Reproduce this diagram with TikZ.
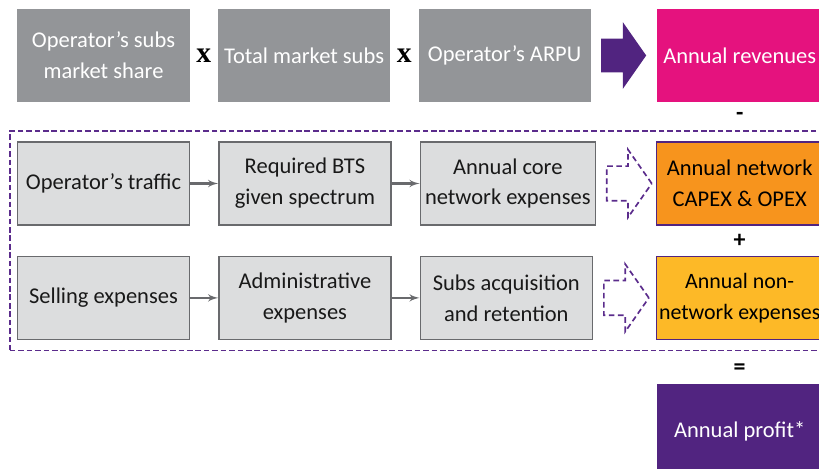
\documentclass[tikz,border=0pt]{standalone}
\usepackage{fontspec}
\setmainfont{Carlito}
\newfontfamily\signfont{Liberation Serif}
\usepackage{tikz}
\usetikzlibrary{shapes,arrows}
\usetikzlibrary{positioning}
\usetikzlibrary{fit,calc}
\definecolor{topgray}{RGB}{147,149,152}
\definecolor{blockgray}{RGB}{220,221,222}
\definecolor{blockline}{RGB}{105,106,109}
\definecolor{revmagenta}{RGB}{229,18,126}
\definecolor{profitpurple}{RGB}{81,36,128}
\definecolor{netorange}{RGB}{247,148,29}
\definecolor{nonnetyellow}{RGB}{253,185,39}
\definecolor{framepurple}{RGB}{91,44,140}
\tikzset{auto,>=latex', node distance=0.7cm, font=\fontsize{16}{22}\selectfont}
\tikzstyle{topbox} = [fill=topgray, text=white, rectangle, minimum height=2.325cm, minimum width=4.3cm, text centered, align=center]
\tikzstyle{block} = [draw=blockline, line width=1pt, fill=blockgray, text={black!90}, rectangle, minimum height=2.075cm, minimum width=4.3cm, text centered, align=center]
\tikzstyle{result} = [rectangle, minimum width=4.15cm, inner xsep=1pt, text centered, align=center]
\tikzstyle{sign} = [inner sep=0pt, font=\fontsize{17}{17}\selectfont\bfseries]
\tikzstyle{bigarrow} = [single arrow, fill=profitpurple, minimum height=1.125cm, minimum width=1.65cm, single arrow head extend=0.4125cm, single arrow tip angle=110, inner xsep=0pt, inner ysep=0.4125cm]
\tikzstyle{dasharrow} = [bigarrow, fill=none, draw=framepurple, dash pattern=on 4pt off 2.5pt, line width=1.2pt]
\tikzstyle{link} = [->, draw=blockline, line width=1.5pt]

\begin{document}
\begin{tikzpicture}
    \useasboundingbox (0,0) rectangle (20.475,-11.725);
    % revenues
    \node [topbox] (share) at (2.5875,-1.3875) {Operator’s subs\\market share};
    \node [topbox, right=0.7cm of share] (market) {Total market subs};
    \node [topbox, right=0.7cm of market] (arpu) {Operator’s ARPU};
    \node [bigarrow, right=0.25cm of arpu, anchor=tail] (torev) {};
    \node [result, fill=revmagenta, text=white, minimum height=2.325cm, right=1.6375cm of arpu] (revenue) {Annual revenues};
    \node [sign, font=\fontsize{21}{21}\selectfont\bfseries] (times1) at ($(share.east)!0.5!(market.west)$) {\signfont x};
    \node [sign, font=\fontsize{21}{21}\selectfont\bfseries] (times2) at ($(market.east)!0.5!(arpu.west)$) {\signfont x};

    % network costs
    \node [block, below=0.975cm of share] (traffic) {Operator’s traffic};
    \node [block, right=0.7cm of traffic] (bts) {Required BTS\\given spectrum};
    \node [block, right=0.7cm of bts] (core) {Annual core\\network expenses};
    \node [dasharrow, right=0.25cm of core, anchor=tail] (tonet) {};
    \node [result, draw=profitpurple, line width=1pt, fill=netorange, minimum height=2.075cm, below=0.975cm of revenue] (network) {Annual network\\CAPEX \& OPEX};

    % non-network costs
    \node [block, below=0.75cm of traffic] (selling) {Selling expenses};
    \node [block, right=0.7cm of selling] (admin) {Administrative\\expenses};
    \node [block, right=0.7cm of admin] (acquisition) {Subs acquisition\\and retention};
    \node [dasharrow, right=0.25cm of acquisition, anchor=tail] (tononnet) {};
    \node [result, draw=profitpurple, line width=1pt, fill=nonnetyellow, minimum height=2.075cm, below=0.75cm of network, font=\fontsize{15.6}{22}\selectfont] (nonnet) {Annual non-\\network expenses};

    \node [result, fill=profitpurple, text=white, minimum height=2.325cm, below=1.1cm of nonnet] (profit) {Annual profit*};

    \node [draw=framepurple, dash pattern=on 4pt off 2pt, line width=1.4pt, inner xsep=0.175cm, inner ysep=0.26cm, fit=(traffic)(selling)(nonnet)] (costs) {};

    \node [sign] (minus) at ($(revenue.south)!0.36!(network.north)$) {-};
    \node [sign] (plus) at ($(network.south)!0.5!(nonnet.north)$) {+};
    \node [sign] (equals) at ($(nonnet.south)!0.66!(profit.north)$) {=};

    \draw [link] (traffic) -- (bts);
    \draw [link] (bts) -- (core);
    \draw [link] (selling) -- (admin);
    \draw [link] (admin) -- (acquisition);
\end{tikzpicture}
\end{document}
